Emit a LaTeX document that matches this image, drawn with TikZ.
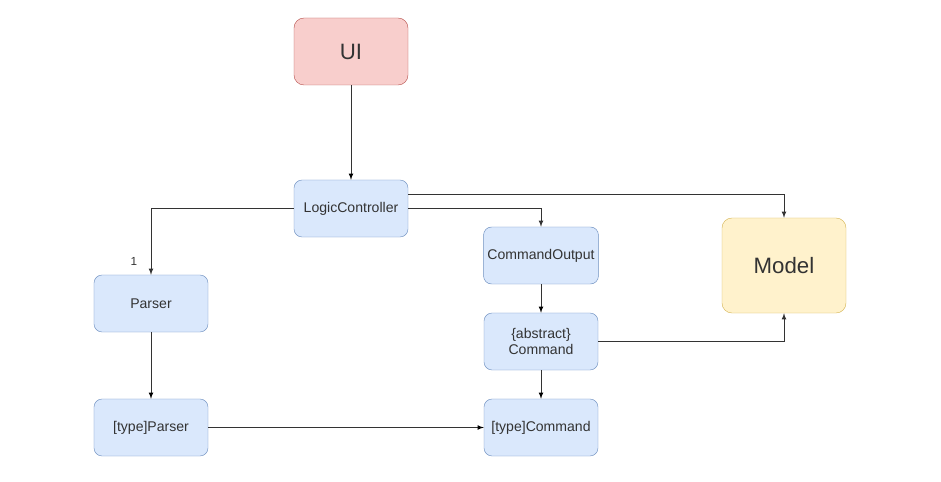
\documentclass[tikz,border=0pt]{standalone}
\usepackage{fontspec}
\setmainfont{Liberation Sans}
\usepackage{tikz}

\definecolor{blueFill}{HTML}{DAE8FC}
\definecolor{blueLine}{HTML}{6C8EBF}
\definecolor{redFill}{HTML}{F8CECC}
\definecolor{redLine}{HTML}{B85450}
\definecolor{yellowFill}{HTML}{FFF2CC}
\definecolor{yellowLine}{HTML}{D6B656}
\definecolor{edgeGray}{HTML}{333333}

\tikzset{
  classbox/.style={draw=blueLine,fill=blueFill,rounded corners=0.24cm,
    minimum width=3.42cm,minimum height=1.71cm,align=center,
    font=\fontsize{12}{14}\selectfont,text=edgeGray},
  bigbox/.style={rounded corners=0.3cm,align=center,
    font=\fontsize{19}{22}\selectfont,text=edgeGray},
  arr/.style={-latex,draw=edgeGray,line width=0.8pt}
}

\begin{document}
\begin{tikzpicture}[x=0.03cm,y=-0.03cm]
  \useasboundingbox (0,0) rectangle (941,482);

  \node[bigbox,draw=redLine,fill=redFill,minimum width=3.42cm,minimum height=2.01cm] (ui) at (351,51.5) {UI};
  \node[classbox] (logic) at (351,208.5) {LogicController};

  \node[classbox] (parser) at (151,303.5) {Parser};
  \node[classbox] (typeparser) at (151,427.5) {[type]Parser};

  \node[classbox] (cmdout) at (541,255.5) {CommandOutput};
  \node[classbox] (abscmd) at (541,341.5) {\{abstract\}\\Command};
  \node[classbox] (typecmd) at (541,427.5) {[type]Command};

  \node[bigbox,draw=yellowLine,fill=yellowFill,minimum width=3.72cm,minimum height=2.85cm] (model) at (784,265.5) {Model};

  \path [arr] (ui) edge (logic);
  \draw [arr] (logic.west) -| node[pos=0.9,left=8pt,font=\fontsize{10}{12}\selectfont,text=edgeGray] {1} (parser.north);
  \draw [arr] (logic.east) -| (cmdout.north);
  \draw [arr] ([yshift=0.42cm]logic.east) -| (model.north);

  \path [arr] (cmdout) edge (abscmd);
  \path [arr] (abscmd) edge (typecmd);
  \draw [arr] (abscmd.east) -| (model.south);

  \path [arr] (parser) edge (typeparser);
  \path [arr] (typeparser) edge (typecmd);

\end{tikzpicture}
\end{document}
